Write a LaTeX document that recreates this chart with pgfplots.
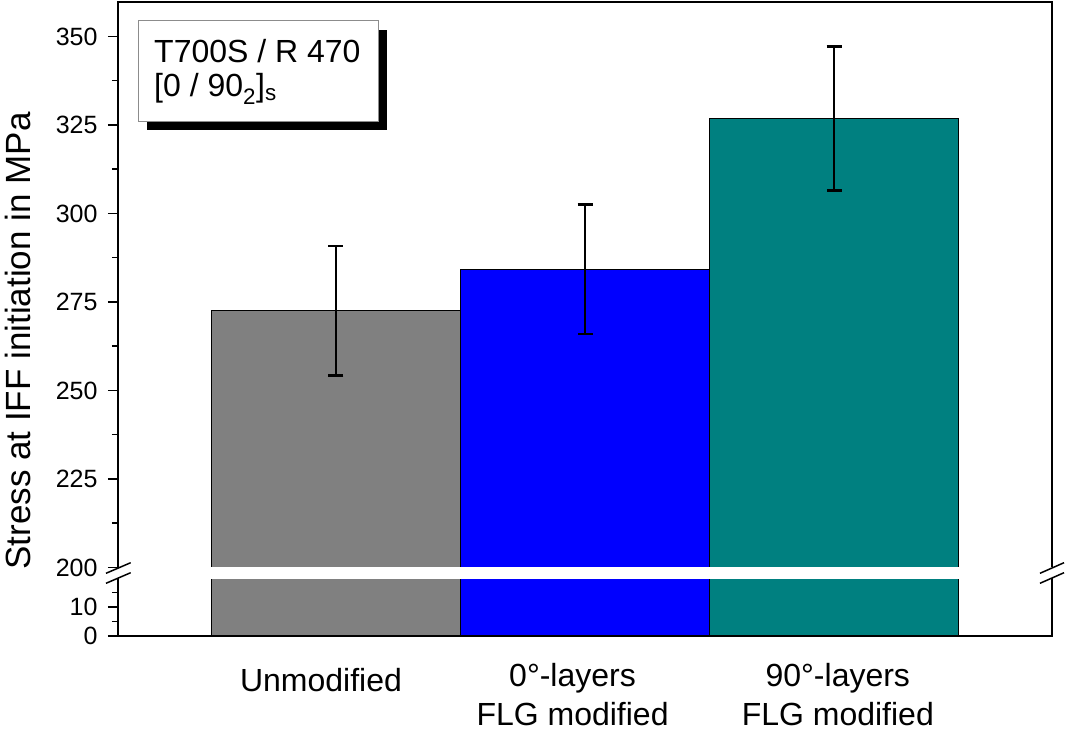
\documentclass[border=0pt]{standalone}
\usepackage{fontspec}
\setmainfont{Liberation Sans}
\usepackage{pgfplots}
\pgfplotsset{compat=1.18}
\definecolor{bargray}{HTML}{808080}
\definecolor{barblue}{HTML}{0000FF}
\definecolor{barteal}{HTML}{008080}
\begin{document}
\begin{tikzpicture}[x=1pt,y=1pt]
\useasboundingbox (0,0) rectangle (1065,731);
\pgfplotsset{
  brk/.style={
    scale only axis, width=934pt, xmin=0.125, xmax=3.875,
    axis line style={draw=none},
    tick align=outside, ytick pos=left,
    major tick length=10pt, minor tick length=6pt,
    every tick/.style={black, line width=1.5pt},
    /pgf/number format/assume math mode=true,
    yticklabel style={font=\fontsize{25}{29}\selectfont, xshift=-7pt},
    xtick style={draw=none},
  },
  barsty/.style={ybar, bar width=1, bar shift=0pt, draw=black, line width=1pt},
  errsty/.style={error bars/.cd, y dir=both, y explicit,
    error bar style={line width=2.8pt, black},
    error mark options={rotate=90, mark size=7.5pt, line width=2.8pt, black}},
}
\begin{axis}[brk, name=upper, at={(118pt,163.5pt)}, anchor=south west,
  height=565pt, ymin=200, ymax=359.6,
  ytick={200,225,...,350}, minor ytick={212.5,237.5,...,337.5}, xtick=\empty]
\addplot[barsty, fill=bargray, errsty] coordinates {(1,272.5) +- (0,18.3)};
\addplot[barsty, fill=barblue, errsty] coordinates {(2,284.2) +- (0,18.25)};
\addplot[barsty, fill=barteal, errsty] coordinates {(3,326.8) +- (0,20.35)};
\end{axis}
\begin{axis}[brk, name=lower, at={(118pt,95pt)}, anchor=south west,
  height=58pt, ymin=0, ymax=20,
  ytick={0,10}, minor ytick={5,15},
  xtick={0.94,1.95,3.015},
  xticklabels={\raisebox{34pt}{Unmodified}, 0\textdegree-layers\\FLG modified, 90\textdegree-layers\\FLG modified},
  xticklabel style={font=\fontsize{32}{39}\selectfont, align=center, anchor=base, yshift=-79pt}]
\addplot[barsty, fill=bargray] coordinates {(1,272.5)};
\addplot[barsty, fill=barblue] coordinates {(2,284.2)};
\addplot[barsty, fill=barteal] coordinates {(3,326.8)};
\end{axis}
\fill[white] (119,152.4) rectangle (1051,164.1);
\draw[line width=2pt] (upper.south west) -- (upper.north west) -- (upper.north east) -- (upper.south east);
\draw[line width=2pt] (lower.north west) -- (lower.south west) -- (lower.south east) -- (lower.north east);
\draw[line width=1.5pt] (106,157.7) -- (130.7,168.3) (106,147.7) -- (130.7,158.3);
\draw[line width=1.5pt] (1040,157.7) -- (1064,168.3) (1040,147.7) -- (1064,158.3);
\node[rotate=90, font=\fontsize{35}{41}\selectfont] at (18,390) {Stress at IFF initiation in MPa};
\fill[black] (147,601) rectangle (387,701);
\draw[line width=1pt, draw=black!45, fill=white] (138,609) rectangle (378,710);
\node[anchor=base west, inner sep=0pt, font=\fontsize{32}{38}\selectfont] at (154,668) {T700S / R 470};
\node[anchor=base west, inner sep=0pt, font=\fontsize{32}{38}\selectfont] at (154,634) {[0 / 90\textsubscript{2}]\textsubscript{s}};
\end{tikzpicture}
\end{document}
